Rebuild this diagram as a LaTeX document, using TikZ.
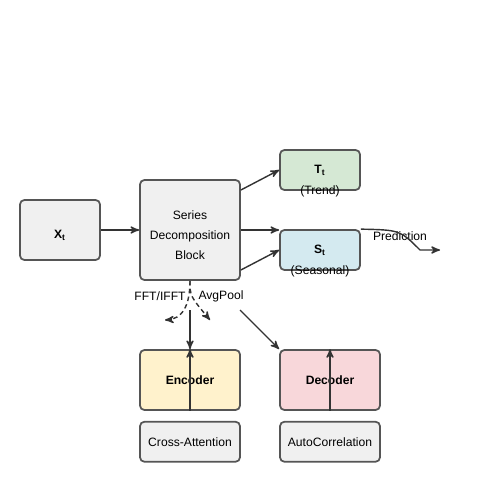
\documentclass[tikz,border=0pt]{standalone}
\usepackage{fontspec}
\setmainfont{Liberation Sans}
\usetikzlibrary{arrows,positioning}
\definecolor{boxline}{HTML}{555555}
\definecolor{arrowcol}{HTML}{333333}
\definecolor{boxgray}{HTML}{F0F0F0}
\definecolor{trendcol}{HTML}{D5E8D4}
\definecolor{seascol}{HTML}{D4EAF0}
\definecolor{enccol}{HTML}{FFF2CC}
\definecolor{deccol}{HTML}{F8D7DA}

\begin{document}
\begin{tikzpicture}[->,>=stealth',auto,x=0.02cm,y=-0.02cm,
		line width=0.8pt,draw=arrowcol]
		\tikzstyle{every node}=[font=\fontsize{6.9}{11.3}\selectfont,text=black]
		\tikzstyle{block}=[draw=boxline,line width=1pt,rounded corners=2.5pt,fill=boxgray,
		minimum width=2cm,minimum height=1.2cm,inner sep=0pt,align=center]
		\tikzstyle{comp}=[block,minimum width=1.6cm,minimum height=0.8cm]
		\tikzstyle{flat}=[block,minimum height=0.8cm]
		\tikzstyle{splitline}=[dash pattern=on 2.6pt off 1.9pt]
		
		\useasboundingbox (0,0) rectangle (500,500);
		
		\node[block,minimum width=1.6cm,
		label={[yshift=-0.11cm]center:\textbf{X\textsubscript{t}}}] (x) at (60,230) {};
		\node[block,minimum height=2cm,
		label={[align=center,yshift=-0.11cm]center:Series\\Decomposition\\Block}] (sdb) at (190,230) {};
		\node[comp,fill=trendcol] (trend) at (320,170) {\textbf{T\textsubscript{t}}};
		\node[comp,fill=seascol] (seas) at (320,250) {\textbf{S\textsubscript{t}}};
		\node (trendlbl) at (trend.south) {(Trend)};
		\node (seaslbl) at (seas.south) {(Seasonal)};
		\node[block,fill=enccol] (enc) at (190,380) {\textbf{Encoder}};
		\node[block,fill=deccol] (dec) at (330,380) {\textbf{Decoder}};
		\node[flat] (cross) [below=0.2cm of enc] {Cross-Attention};
		\node[flat] (auto) [below=0.2cm of dec] {AutoCorrelation};
		
		\node (fft) at (160,296) {FFT/IFFT};
		\node (pool) at (221,296) {AvgPool};
		\node (predlbl) at (400,236) {Prediction};
		
		\coordinate (pred) at (440,250);
		\coordinate (encin) at (190,310);
		\coordinate (decin) at (240,310);
		
		\path
		(x) edge (sdb)
		([yshift=0.8cm]sdb.east) edge (trend.west)
		(sdb.east) edge (sdb.east -| seas.west)
		([yshift=-0.8cm]sdb.east) edge (seas.west)
		(encin) edge (enc.north)
		(decin) edge (dec.north west)
		(enc.south) edge (enc.north)
		(dec.south) edge (dec.north);
		
		\draw (seas.north east) .. controls (400,230) .. (420,250) -- (pred);
		\draw[splitline] (sdb.south) .. controls (190,306) and (182,319) .. (165,320);
		\draw[splitline] (sdb.south) .. controls (190,296) .. (210,320);
		\end{tikzpicture}
\end{document}
